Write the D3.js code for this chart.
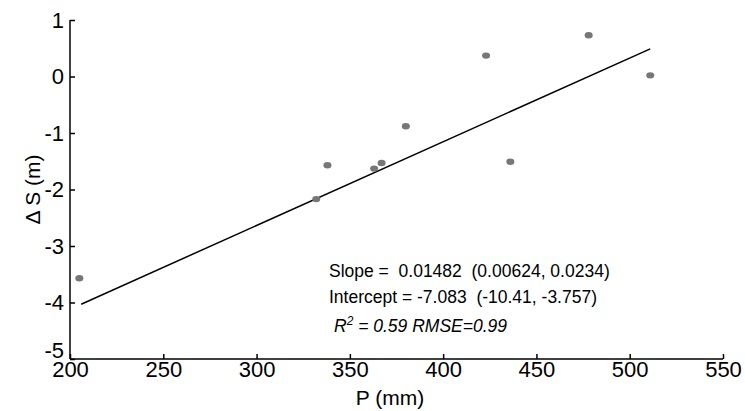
<!DOCTYPE html>
<html><head><meta charset="utf-8">
<script src="https://cdn.jsdelivr.net/npm/d3@7"></script>
<style>body{margin:0;background:#fff;font-family:"Liberation Sans",Arial,sans-serif}</style>
</head><body><div id="chart"></div>
<script>
const pValues = [205, 332, 338, 363, 367, 380, 423, 436, 478, 511];
const dsValues = [-3.57, -2.17, -1.57, -1.63, -1.53, -0.88, 0.37, -1.51, 0.73, 0.02];
const slope = 0.01482, intercept = -7.083;
const fitRange = [206, 511];
const xTicks = [200, 250, 300, 350, 400, 450, 500, 550];
const yTicks = [-5, -4, -3, -2, -1, 0, 1];

const W = 745, H = 411;
const margin = { top: 20, right: 22, bottom: 52, left: 70 };
const svg = d3.select('#chart').append('svg').attr('width', W).attr('height', H);
const x = d3.scaleLinear().domain([200, 550]).range([margin.left, W - margin.right]);
const y = d3.scaleLinear().domain([-5, 1]).range([H - margin.bottom, margin.top]);

const xAxis = svg.append('g').attr('transform', `translate(0,${H - margin.bottom})`)
  .call(d3.axisBottom(x).tickValues(xTicks).tickFormat(d3.format('d')).tickSize(-5).tickPadding(2));
const yAxis = svg.append('g').attr('transform', `translate(${margin.left},0)`)
  .call(d3.axisLeft(y).tickValues(yTicks).tickFormat(d => String(d)).tickSize(-5).tickPadding(6));
[xAxis, yAxis].forEach(a => {
  a.attr('font-size', 22).attr('font-family', 'Liberation Sans, Arial');
  a.selectAll('.domain').attr('stroke', '#000').attr('stroke-width', 1.5);
  a.selectAll('.tick line').attr('stroke', '#000').attr('stroke-width', 1.5);
  a.selectAll('text').attr('fill', '#000');
});
yAxis.selectAll('.tick text').filter(d => d === -5).attr('dy', '-0.05em');
yAxis.select('.domain').attr('d', `M0,${margin.top}V${H - margin.bottom}`);
xAxis.select('.domain').attr('d', `M${margin.left},0H${W - margin.right}`);

svg.append('line')
  .attr('x1', x(fitRange[0])).attr('y1', y(slope * fitRange[0] + intercept))
  .attr('x2', x(fitRange[1])).attr('y2', y(slope * fitRange[1] + intercept))
  .attr('stroke', '#000').attr('stroke-width', 1.5);

svg.append('g').selectAll('ellipse').data(pValues).enter().append('ellipse')
  .attr('cx', (d, i) => x(d)).attr('cy', (d, i) => y(dsValues[i]))
  .attr('rx', 4).attr('ry', 3.2).attr('fill', '#777');

svg.append('text').attr('x', 390).attr('y', 405)
  .attr('text-anchor', 'middle').attr('font-size', 21).text('P (mm)');
svg.append('text').attr('transform', `translate(40,${y(-2)}) rotate(-90)`)
  .attr('text-anchor', 'middle').attr('font-size', 21)
  .text('Δ S (m)');

const ann = svg.append('g').attr('font-size', 17.5);
ann.append('text').attr('x', 329).attr('y', 277).attr('xml:space', 'preserve').text('Slope =  0.01482  (0.00624, 0.0234)');
ann.append('text').attr('x', 329).attr('y', 303).attr('xml:space', 'preserve').text('Intercept = -7.083  (-10.41, -3.757)');
ann.append('text').attr('x', 334).attr('y', 332).attr('font-style', 'italic')
  .html('R<tspan dy="-7" font-size="12">2</tspan><tspan dy="7"> = 0.59 RMSE=0.99</tspan>');
</script></body></html>
